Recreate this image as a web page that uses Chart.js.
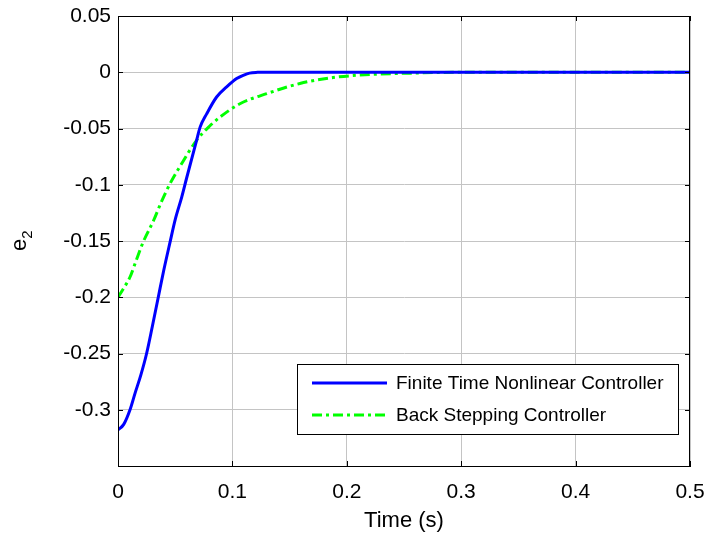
<!DOCTYPE html>
<html>
<head>
<meta charset="utf-8">
<script src="https://cdn.jsdelivr.net/npm/chart.js@4/dist/chart.umd.min.js"></script>
<style>
  html, body { margin: 0; padding: 0; background: #fff; }
  canvas { display: block; }
</style>
</head>
<body>
<canvas id="graph" width="713" height="538"></canvas>
<script>
// values
const timeFinite = [0, 0.005, 0.0105, 0.015, 0.02, 0.025, 0.03, 0.0352, 0.04, 0.0455, 0.05, 0.0557, 0.06, 0.0687, 0.0717, 0.0775, 0.0862, 0.095, 0.1037, 0.11, 0.115, 0.122, 0.125, 0.2, 0.3, 0.4, 0.5];
const e2Finite = [-0.318, -0.313, -0.300, -0.285, -0.269, -0.250, -0.226, -0.200, -0.176, -0.151, -0.131, -0.111, -0.094, -0.0605, -0.049, -0.037, -0.022, -0.013, -0.0056, -0.0025, -0.0008, -0.0001, 0, 0, 0, 0, 0];

const timeBack = [0, 0.005, 0.0105, 0.016, 0.022, 0.031, 0.038, 0.0455, 0.054, 0.0687, 0.08, 0.089, 0.1066, 0.13, 0.159, 0.188, 0.22, 0.26, 0.3, 0.4, 0.5];
const e2Back = [-0.200, -0.192, -0.182, -0.167, -0.151, -0.132, -0.115, -0.099, -0.084, -0.0605, -0.048, -0.040, -0.028, -0.019, -0.010, -0.0047, -0.002, -0.0007, 0, 0, 0];

const seriesLabels = ["Finite Time Nonlinear Controller", "Back Stepping Controller"];
const xLabel = "Time (s)";
const yLabel = "e";
const yLabelSub = "2";

const FONT = "'Liberation Sans', Arial, sans-serif";

function points(xs, ys) {
    let out = [];
    xs.forEach((x, i) => {
        out.push({x: x, y: ys[i]});
    });
    return out;
}

// no extra room for labels hanging past the ends, the layout padding handles it
function noOverhang(scale) {
    scale.paddingLeft = 0;
    scale.paddingRight = 0;
    scale.paddingTop = 0;
    scale.paddingBottom = 0;
}

// frame, inward ticks, y label and legend box drawn like the matlab figure
const matlabBits = {
    id: "matlabBits",
    afterDraw(chart) {
        const ctx = chart.ctx;
        const a = chart.chartArea;
        const xs = chart.scales.x;
        const ys = chart.scales.y;
        ctx.save();

        ctx.strokeStyle = "#000";
        ctx.lineWidth = 1;
        ctx.strokeRect(a.left + 0.5, a.top + 0.5, a.right - a.left - 1, a.bottom - a.top);

        ctx.beginPath();
        xs.ticks.forEach(t => {
            const px = Math.round(xs.getPixelForValue(t.value)) + 0.5;
            ctx.moveTo(px, a.bottom); ctx.lineTo(px, a.bottom - 5);
            ctx.moveTo(px, a.top); ctx.lineTo(px, a.top + 5);
        });
        ys.ticks.forEach(t => {
            const py = Math.round(ys.getPixelForValue(t.value)) + 0.5;
            ctx.moveTo(a.left, py); ctx.lineTo(a.left + 5, py);
            ctx.moveTo(a.right, py); ctx.lineTo(a.right - 5, py);
        });
        ctx.stroke();

        // y axis title e_2
        ctx.fillStyle = "#000";
        ctx.translate(26, 245);
        ctx.rotate(-Math.PI / 2);
        ctx.textBaseline = "alphabetic";
        ctx.textAlign = "left";
        ctx.font = "22px " + FONT;
        ctx.fillText(yLabel, -6, 0);
        const ew = ctx.measureText(yLabel).width;
        ctx.font = "15px " + FONT;
        ctx.fillText(yLabelSub, -6 + ew, 6);
        ctx.setTransform(1, 0, 0, 1, 0, 0);

        // legend
        const box = {x: 297, y: 364, w: 381, h: 70};
        ctx.fillStyle = "#fff";
        ctx.fillRect(box.x, box.y, box.w, box.h);
        ctx.strokeStyle = "#000";
        ctx.lineWidth = 1;
        ctx.strokeRect(box.x + 0.5, box.y + 0.5, box.w, box.h);
        ctx.font = "19px " + FONT;
        ctx.textBaseline = "middle";
        ctx.fillStyle = "#000";
        chart.data.datasets.forEach((ds, i) => {
            const cy = 383 + i * 32;
            ctx.beginPath();
            ctx.strokeStyle = ds.borderColor;
            ctx.lineWidth = ds.borderWidth;
            ctx.setLineDash(ds.borderDash || []);
            ctx.moveTo(312, cy);
            ctx.lineTo(387, cy);
            ctx.stroke();
            ctx.setLineDash([]);
            ctx.fillText(ds.label, 396, cy + 1);
        });
        ctx.restore();
    }
};

const graph = document.getElementById("graph").getContext("2d");

const chart = new Chart(graph, {
    type: "line",
    data: {
        datasets: [
            {
                label: seriesLabels[0],
                data: points(timeFinite, e2Finite),
                borderColor: "rgb(0,0,255)",
                borderWidth: 3,
                pointRadius: 0,
                cubicInterpolationMode: "monotone",
                fill: false
            },
            {
                label: seriesLabels[1],
                data: points(timeBack, e2Back),
                borderColor: "rgb(0,255,0)",
                borderWidth: 3,
                borderDash: [10, 4, 3, 4],
                pointRadius: 0,
                cubicInterpolationMode: "monotone",
                fill: false
            }
        ]
    },
    options: {
        responsive: false,
        animation: false,
        devicePixelRatio: 1,
        layout: {
            padding: {top: 16, right: 23, left: 0, bottom: 0}
        },
        plugins: {
            legend: {display: false},
            tooltip: {enabled: false}
        },
        scales: {
            x: {
                type: "linear",
                min: 0,
                max: 0.5,
                ticks: {
                    stepSize: 0.1,
                    color: "#000",
                    font: {family: FONT, size: 21},
                    padding: 14,
                    maxRotation: 0,
                    callback: v => parseFloat(v.toFixed(2)).toString()
                },
                grid: {color: "#c4c4c4", drawTicks: false},
                border: {display: true, color: "#000"},
                title: {
                    display: true,
                    text: xLabel,
                    color: "#000",
                    font: {family: FONT, size: 22},
                    padding: {top: 0}
                },
                afterFit: scale => { scale.height = 72; noOverhang(scale); }
            },
            y: {
                min: -0.35,
                max: 0.05,
                ticks: {
                    stepSize: 0.05,
                    color: "#000",
                    font: {family: FONT, size: 21},
                    padding: 7,
                    callback: v => Math.abs(v + 0.35) < 1e-9 ? "" : parseFloat(v.toFixed(2)).toString()
                },
                grid: {color: "#c4c4c4", drawTicks: false},
                border: {display: true, color: "#000"},
                afterFit: scale => { scale.width = 118; noOverhang(scale); }
            }
        }
    },
    plugins: [matlabBits]
});
</script>
</body>
</html>
